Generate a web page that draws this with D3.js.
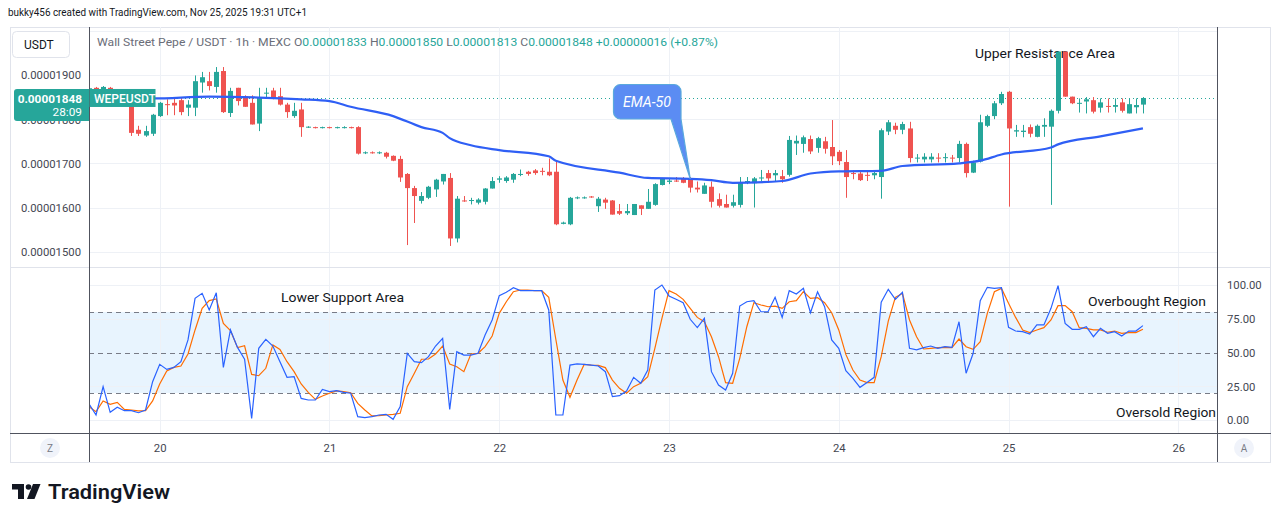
<!DOCTYPE html>
<html>
<head>
<meta charset="utf-8">
<script src="https://cdn.jsdelivr.net/npm/d3@7/dist/d3.min.js"></script>
<style>
html,body{margin:0;padding:0;background:#fff;}
svg{display:block;font-family:Roboto,"Noto Sans",sans-serif;}
</style>
</head>
<body>
<svg id="chart" width="1281" height="522"></svg>
<script>
// Prices are expressed in units of 1e-8 USDT (1848 => 0.00001848)
const firstHour = -10; // hours relative to Nov 20 00:00 (UTC+1)
const dayLabels = ["20","21","22","23","24","25","26"];
const dayHours = [0,24,48,72,96,120,144];
const priceTicks = [1500,1600,1700,1800,1900];
const priceGrid = [1500,1600,1700,1800,1900,2000];
const stochTicks = [0,25,50,75,100];
const stochTickLabels = ["0.00","25.00","50.00","75.00","100.00"];
const stochLevels = [20,50,80];

const opens = [1868,1871,1866,1871,1862,1855,1840,1776,1763,1767,1807,1834,1837,1843,1826,1826,1883,1886,1873,1909,1814,1871,1852,1837,1790,1858,1865,1852,1833,1807,1822,1781,1782,1780,1782,1780,1781,1782,1782,1723,1725,1723,1724,1717,1710,1676,1644,1615,1622,1641,1659,1667,1530,1616,1615,1611,1613,1643,1663,1660,1663,1674,1681,1684,1683,1681,1681,1563,1562,1621,1621,1625,1603,1618,1616,1592,1587,1583,1605,1597,1606,1651,1658,1661,1666,1666,1645,1631,1647,1619,1608,1604,1606,1657,1655,1666,1678,1673,1671,1674,1745,1744,1755,1735,1750,1737,1726,1703,1678,1677,1674,1673,1669,1772,1785,1776,1779,1711,1709,1709,1713,1712,1713,1712,1744,1679,1704,1785,1807,1836,1862,1772,1771,1782,1760,1783,1783,1819,1953,1851,1835,1840,1843,1826,1830,1828,1838,1813,1827,1833];
const highs = [1872,1873,1875,1873,1866,1860,1848,1785,1785,1812,1839,1845,1846,1848,1843,1899,1907,1907,1918,1918,1871,1871,1854,1854,1871,1871,1871,1871,1837,1837,1837,1784,1783,1783,1783,1783,1784,1783,1784,1727,1727,1727,1726,1718,1717,1678,1649,1635,1649,1665,1676,1678,1626,1626,1622,1621,1644,1669,1671,1671,1678,1686,1683,1687,1690,1711,1703,1568,1624,1625,1625,1626,1624,1622,1617,1608,1608,1608,1605,1642,1655,1667,1666,1669,1669,1669,1659,1656,1659,1632,1629,1629,1669,1669,1669,1685,1685,1685,1685,1762,1763,1763,1763,1760,1760,1798,1730,1730,1684,1684,1681,1684,1779,1798,1792,1794,1794,1721,1723,1723,1723,1723,1719,1751,1747,1706,1810,1810,1841,1862,1864,1787,1787,1788,1788,1802,1822,1953,1953,1851,1847,1850,1850,1847,1847,1847,1847,1847,1847,1850];
const lows = [1862,1862,1862,1860,1852,1843,1762,1762,1760,1762,1805,1809,1809,1809,1807,1807,1860,1865,1860,1814,1805,1831,1828,1788,1773,1846,1845,1831,1803,1803,1760,1780,1779,1779,1779,1779,1779,1779,1720,1721,1722,1721,1711,1705,1658,1515,1565,1609,1619,1624,1652,1513,1521,1613,1607,1607,1607,1643,1656,1656,1656,1671,1672,1674,1673,1671,1560,1562,1560,1619,1620,1622,1590,1597,1584,1583,1583,1583,1583,1597,1604,1650,1653,1658,1655,1634,1634,1631,1600,1600,1600,1600,1600,1653,1600,1659,1656,1659,1656,1670,1719,1724,1721,1724,1722,1696,1696,1622,1664,1660,1660,1664,1620,1764,1766,1766,1702,1702,1702,1702,1702,1702,1702,1702,1668,1678,1702,1782,1800,1832,1602,1760,1759,1759,1759,1760,1606,1813,1851,1834,1815,1813,1813,1815,1815,1815,1815,1813,1813,1813];
const closes = [1870,1866,1873,1864,1855,1850,1769,1767,1773,1810,1837,1832,1831,1816,1833,1886,1895,1875,1907,1816,1864,1841,1828,1788,1848,1860,1846,1833,1816,1819,1782,1783,1780,1782,1780,1782,1782,1780,1722,1725,1723,1725,1715,1706,1668,1644,1626,1626,1647,1663,1676,1530,1620,1614,1617,1618,1643,1660,1666,1668,1676,1676,1676,1678,1681,1673,1562,1566,1622,1623,1623,1623,1620,1611,1584,1586,1592,1608,1597,1613,1653,1666,1661,1659,1656,1645,1641,1650,1613,1604,1600,1612,1657,1660,1666,1668,1666,1678,1664,1753,1751,1759,1727,1757,1733,1716,1705,1669,1676,1662,1672,1678,1775,1793,1776,1789,1712,1713,1715,1715,1711,1714,1711,1744,1678,1702,1793,1807,1836,1857,1779,1775,1774,1767,1785,1787,1819,1953,1851,1836,1837,1845,1817,1838,1828,1832,1819,1834,1832,1848];

const emaHours = [-10,-1,7,14,20,24,27,33,37,40,41,44,48,55,56,65,69,75,78,81,88,92,96,102,105,113,116,119,126,127,133,139];
const emaValues = [1847,1847,1851,1849,1845,1841,1828,1807,1782,1769,1757,1741,1730,1716,1706,1679,1667,1665,1662,1656,1660,1677,1682,1683,1694,1700,1706,1720,1736,1743,1761,1779];

const stochK = [11.9,3.7,24.7,5.7,9.4,6.9,6.9,5.4,7.4,28.4,41.2,37.5,39,43.2,59.3,90.1,93.8,81.5,94.3,39,66.7,53.8,45,1.2,53.1,59.8,54.8,43.2,31.6,32.1,16,14.8,14.8,22.7,21,21.7,20.5,19.8,2.5,1.7,2.5,3.7,4.2,0.5,9.9,49.4,43.2,42.5,46.9,54.8,60.5,7.9,50.6,48.1,48.1,49.4,63,74.1,92.1,94.6,98,95.8,95.8,95.8,95.8,81.5,3.7,3.7,40.7,41.5,41.2,40.7,40,35.8,17.3,18,21.5,31.6,27.2,37,96.3,100,91.9,89.4,86.9,74.6,68.4,75.3,35.8,25.9,22.2,34.6,84.4,87.6,88.4,80.2,80.2,90.9,76,95.8,93.3,97.5,79.5,95,83.9,59.3,53.1,36.5,30.9,24.2,27.7,31.6,87.2,96.8,89.4,94.6,53.1,51.9,53.6,54.8,53.1,54.3,53.8,72.8,34.6,49.4,88.4,98.3,97.5,98,68.6,65.9,65.4,63.7,70.4,70.4,82.7,99.5,71.6,67.2,67.2,69.1,61.7,67.9,64.2,65.4,62.2,65.9,65.9,69.9];
const stochD = [9.9,6.2,14.1,11.6,13.1,7.9,7.4,6.7,6.9,14.1,26.7,36.3,39,40,48.9,66.7,82.7,88.4,89.6,71.6,66.2,53.6,55,33.8,32.8,38.3,55.6,52.3,43.2,35.8,26.7,20.5,15.3,17.8,19.8,21.5,21,20.2,12.3,7.4,3,3.2,3.7,4.2,5,24.7,34.6,45,45.2,48.9,54.8,41.5,39.5,35.8,48.9,49.4,54.3,62.2,79,87.6,95,96.3,96.3,95.8,95.8,90.9,59.8,29.6,16.8,29.6,41.2,40.7,40.5,38.8,29.6,23.5,19.8,24.7,27.2,32.1,53.1,75.3,95.8,93.3,89.4,82.7,76,72.8,61.7,46.9,27.7,27.2,45.7,69.1,86.9,85.2,83.9,84.4,82.7,87.6,88.4,95,90.1,90.6,86.9,79.5,66.7,48.6,37,29.6,27.7,27.7,46.9,73.3,90.9,93.8,74.1,61.7,52.6,53.1,53.6,53.8,53.6,60,54.3,52.3,58,79,95,97.5,86.4,76,66.7,64.7,66.7,68.4,74.1,84.7,84.7,80.2,68.4,67.9,66.7,66.7,65,65.9,64.2,64.7,64.7,67.2];

const lastPrice = 1848;
const legendVals = {O:"0.00001833",H:"0.00001850",L:"0.00001813",C:"0.00001848",chg:"+0.00000016 (+0.87%)"};

// ---------- layout ----------
const W = 1281, H = 522;
const plotL = 89, plotR = 1217;
const mainT = 27, mainB = 267;
const stT = 268, stB = 433;
const axB = 462;

const UP = "#26a69a", DOWN = "#ef5350";
const GRID = "#eef1f6";
const AXIS_LINE = "#50535e";
const TXT = "#131722";

const svg = d3.select("#chart");
svg.append("rect").attr("width",W).attr("height",H).attr("fill","#fff");

const x = d3.scaleLinear().domain([0,144]).range([159.7,1178.3]);
const yP = d3.scaleLinear().domain([1500,1900]).range([251.7,75]);
const yS = d3.scaleLinear().domain([0,100]).range([420,285]);

const defs = svg.append("defs");
defs.append("clipPath").attr("id","clipMain").append("rect")
  .attr("x",plotL).attr("y",mainT).attr("width",plotR-plotL).attr("height",mainB-mainT);
defs.append("clipPath").attr("id","clipSt").append("rect")
  .attr("x",plotL).attr("y",stT).attr("width",plotR-plotL).attr("height",stB-stT);

// chart frame
svg.append("rect").attr("x",10.5).attr("y",mainT+0.5).attr("width",1260).attr("height",axB-mainT)
  .attr("fill","none").attr("stroke","#e0e3eb");

// ---------- grids ----------
const grid = svg.append("g");
grid.selectAll(".hg").data(priceGrid).join("line")
  .attr("x1",plotL).attr("x2",plotR)
  .attr("y1",d=>Math.round(yP(d))+0.5).attr("y2",d=>Math.round(yP(d))+0.5)
  .attr("stroke",GRID);
grid.selectAll(".vg").data(dayHours).join("line")
  .attr("x1",d=>Math.round(x(d))+0.5).attr("x2",d=>Math.round(x(d))+0.5)
  .attr("y1",mainT).attr("y2",stB)
  .attr("stroke",GRID);

// stochastic band
svg.append("rect").attr("x",plotL).attr("width",plotR-plotL)
  .attr("y",yS(80)).attr("height",yS(20)-yS(80))
  .attr("fill","#2196f3").attr("fill-opacity",0.1);
grid.raise();
svg.append("g").selectAll("line").data([0,25,75,100]).join("line")
  .attr("x1",plotL).attr("x2",plotR)
  .attr("y1",d=>Math.round(yS(d))+0.5).attr("y2",d=>Math.round(yS(d))+0.5)
  .attr("stroke",GRID);
svg.append("g").selectAll("line").data(stochLevels).join("line")
  .attr("x1",plotL).attr("x2",plotR)
  .attr("y1",d=>Math.round(yS(d))+0.5).attr("y2",d=>Math.round(yS(d))+0.5)
  .attr("stroke","#787b86").attr("stroke-dasharray","5,4");

// pane separator
svg.append("line").attr("x1",10).attr("x2",1271).attr("y1",mainB+0.5).attr("y2",mainB+0.5).attr("stroke","#e0e3eb");

// ---------- annotations (under candles) ----------
const notes = [
  {t:"Upper Resistance Area", x:975, y:57.5, w:140},
  {t:"Lower Support Area", x:281, y:302, w:123},
  {t:"Overbought Region", x:1088, y:306, w:118},
  {t:"Oversold Region", x:1116, y:417, w:100}
];
svg.append("g").selectAll("text").data(notes).join("text")
  .attr("x",d=>d.x).attr("y",d=>d.y).text(d=>d.t)
  .attr("font-size",13.5).attr("fill",TXT)
  .attr("textLength",d=>d.w).attr("lengthAdjust","spacingAndGlyphs");

// ---------- price line ----------
svg.append("line").attr("x1",plotL).attr("x2",plotR)
  .attr("y1",Math.round(yP(lastPrice))+0.5).attr("y2",Math.round(yP(lastPrice))+0.5)
  .attr("stroke",UP).attr("stroke-dasharray","1,3");

// ---------- candles ----------
const candles = opens.map((o,i)=>({h:firstHour+i,o:o,hi:highs[i],lo:lows[i],c:closes[i]}));
const cg = svg.append("g").attr("clip-path","url(#clipMain)");
const bw = 5;
const cnd = cg.selectAll("g").data(candles).join("g");
cnd.append("line")
  .attr("x1",d=>Math.round(x(d.h))+0.5).attr("x2",d=>Math.round(x(d.h))+0.5)
  .attr("y1",d=>yP(d.hi)).attr("y2",d=>yP(d.lo))
  .attr("stroke",d=>d.c>=d.o?UP:DOWN).attr("stroke-width",1);
cnd.append("rect")
  .attr("x",d=>Math.round(x(d.h))+0.5-bw/2)
  .attr("width",bw)
  .attr("y",d=>Math.min(yP(d.o),yP(d.c)))
  .attr("height",d=>Math.max(1,Math.abs(yP(d.o)-yP(d.c))))
  .attr("fill",d=>d.c>=d.o?UP:DOWN);

// ---------- EMA ----------
const emaData = emaHours.map((h,i)=>({h:h,v:emaValues[i]}));
cg.append("path").datum(emaData)
  .attr("d",d3.line().x(d=>x(d.h)).y(d=>yP(d.v)).curve(d3.curveMonotoneX))
  .attr("fill","none").attr("stroke","#2f5ff5").attr("stroke-width",2.2);

// ---------- stochastic ----------
const sg = svg.append("g").attr("clip-path","url(#clipSt)");
const kData = stochK.map((v,i)=>({h:firstHour+i,v:v}));
const dData = stochD.map((v,i)=>({h:firstHour+i,v:v}));
const sLine = d3.line().x(d=>x(d.h)).y(d=>yS(d.v));
sg.append("path").datum(dData).attr("d",sLine).attr("fill","none").attr("stroke","#ff6d00").attr("stroke-width",1.2);
sg.append("path").datum(kData).attr("d",sLine).attr("fill","none").attr("stroke","#2962ff").attr("stroke-width",1.2);

// ---------- frame lines ----------
svg.append("line").attr("x1",plotL+0.5).attr("x2",plotL+0.5).attr("y1",mainT).attr("y2",axB).attr("stroke",AXIS_LINE);
svg.append("line").attr("x1",plotR+0.5).attr("x2",plotR+0.5).attr("y1",mainT).attr("y2",axB).attr("stroke",AXIS_LINE);
svg.append("line").attr("x1",10).attr("x2",1271).attr("y1",stB+0.5).attr("y2",stB+0.5).attr("stroke",AXIS_LINE);

// ---------- axes ----------
const fmtP = v => (v*1e-8).toFixed(8);
const axP = svg.append("g").attr("transform",`translate(81,0)`)
  .call(d3.axisLeft(yP).tickValues(priceTicks).tickFormat(fmtP).tickSize(0).tickPadding(0));
axP.select(".domain").remove();
axP.selectAll("text").attr("font-family","Roboto").attr("font-size",11.3).attr("fill","#434651").attr("dy","0.35em");

const axS = svg.append("g").attr("transform",`translate(1227,0)`)
  .call(d3.axisRight(yS).tickValues(stochTicks).tickFormat((d,i)=>stochTickLabels[i]).tickSize(0).tickPadding(0));
axS.select(".domain").remove();
axS.selectAll("text").attr("font-family","Roboto").attr("font-size",11.3).attr("fill","#434651").attr("dy","0.35em");

const axX = svg.append("g").attr("transform",`translate(0,448)`)
  .call(d3.axisBottom(x).tickValues(dayHours).tickFormat((d,i)=>dayLabels[i]).tickSize(0).tickPadding(0));
axX.select(".domain").remove();
axX.selectAll("text").attr("font-family","Roboto").attr("font-size",11.3).attr("fill","#434651").attr("dy","0.35em");

// Z / A buttons
[[50,"Z"],[1244,"A"]].forEach(([cx,t])=>{
  svg.append("circle").attr("cx",cx).attr("cy",448).attr("r",10).attr("fill","#f0f3fa");
  svg.append("text").attr("x",cx).attr("y",452).attr("text-anchor","middle").attr("font-size",10).attr("fill","#787b86").text(t);
});

// ---------- last price labels ----------
const yl = yP(lastPrice);
svg.append("path")
  .attr("d",`M${plotL},${yl-9} V${yl+23} H17 Q14,${yl+23} 14,${yl+20} V${yl-6} Q14,${yl-9} 17,${yl-9} Z`)
  .attr("fill",UP);
svg.append("text").attr("x",82).attr("y",yl+5).attr("text-anchor","end")
  .attr("font-size",11.8).attr("font-weight",700).attr("fill","#fff").text(fmtP(lastPrice));
svg.append("text").attr("x",82).attr("y",yl+18.5).attr("text-anchor","end")
  .attr("font-size",11.8).attr("fill","#fff").text("28:09");
svg.append("rect").attr("x",plotL+0.5).attr("y",yl-9).attr("width",66).attr("height",18).attr("fill",UP);
svg.append("text").attr("x",plotL+5).attr("y",yl+4.6)
  .attr("font-size",12).attr("font-weight",500).attr("fill","#fff").text("WEPEUSDT");

// ---------- EMA-50 callout ----------
const tipX = x(75), tipY = yP(emaValues[emaHours.indexOf(75)]);
svg.append("path")
  .attr("d",`M620.5,84.5 H674 A7,7 0 0 1 681,91.5 V119 L${tipX},${tipY} L671,119 H620.5 A7,7 0 0 1 613.5,112 V91.5 A7,7 0 0 1 620.5,84.5 Z`)
  .attr("fill","#5b8cf3").attr("stroke","#5aa9dd").attr("stroke-width",1.2);
svg.append("text").attr("x",647).attr("y",106.5).attr("text-anchor","middle")
  .attr("font-size",14.5).attr("font-style","italic").attr("fill","#fff")
  .attr("textLength",48).attr("lengthAdjust","spacingAndGlyphs").text("EMA-50");

// ---------- header ----------
svg.append("text").attr("x",8).attr("y",15.5).attr("font-size",11.5).attr("fill",TXT)
  .attr("textLength",299).attr("lengthAdjust","spacingAndGlyphs")
  .text("bukky456 created with TradingView.com, Nov 25, 2025 19:31 UTC+1");

svg.append("rect").attr("x",12.5).attr("y",31.5).attr("width",57).attr("height",26).attr("rx",4)
  .attr("fill","#fff").attr("stroke","#e0e3eb");
svg.append("text").attr("x",24).attr("y",48.5).attr("font-size",12).attr("fill",TXT).text("USDT");

const lg = svg.append("text").attr("x",97).attr("y",46).attr("font-size",11.5)
  .attr("textLength",621).attr("lengthAdjust","spacingAndGlyphs");
lg.append("tspan").attr("fill","#6a6d78").text("Wall Street Pepe / USDT · 1h · MEXC  ");
[["O",legendVals.O],["H",legendVals.H],["L",legendVals.L],["C",legendVals.C]].forEach(([k,v])=>{
  lg.append("tspan").attr("fill","#6a6d78").text(k);
  lg.append("tspan").attr("fill",UP).text(v+"  ");
});
lg.append("tspan").attr("fill",UP).text(legendVals.chg);

// ---------- TradingView logo ----------
const logo = svg.append("g");
logo.append("path").attr("d","M12,484 H24 V499 H18 V489.5 H12 Z").attr("fill","#131722");
logo.append("circle").attr("cx",28.5).attr("cy",487).attr("r",2.8).attr("fill","#131722");
logo.append("path").attr("d","M33,484 H40.5 L34.5,499 H27 Z").attr("fill","#131722");
logo.append("text").attr("x",48).attr("y",499).attr("font-size",21).attr("font-weight",600)
  .attr("fill","#131722").attr("textLength",122).attr("lengthAdjust","spacingAndGlyphs").text("TradingView");
</script>
</body>
</html>
